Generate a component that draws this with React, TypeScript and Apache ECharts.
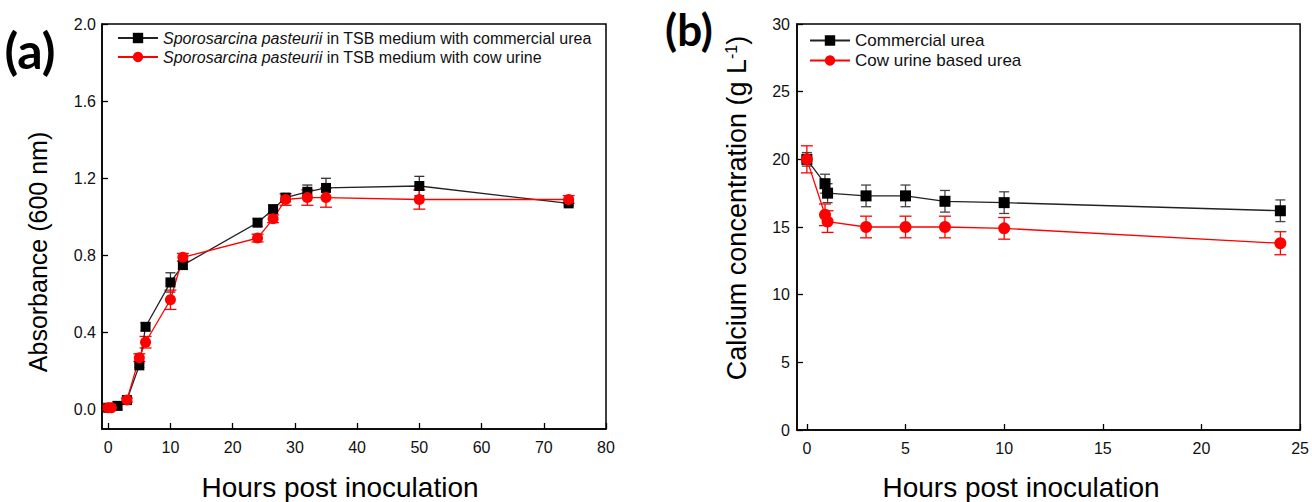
import { useEffect, useRef } from 'react';
import * as echarts from 'echarts';

// ---------- Panel (a): absorbance ----------
const hoursCommercialA = [0, 1.5, 3, 5, 6, 10, 12, 24, 26.5, 28.5, 32, 35, 50, 74];
const absCommercial = [0.01, 0.02, 0.05, 0.23, 0.43, 0.66, 0.75, 0.97, 1.04, 1.1, 1.13, 1.15, 1.16, 1.07];
const absCommercialErr = [0.005, 0.02, 0.01, 0.01, 0.02, 0.05, 0.02, 0.02, 0.02, 0.02, 0.035, 0.05, 0.05, 0.01];

const hoursUrineA = [0, 0.5, 3, 5, 6, 10, 12, 24, 26.5, 28.5, 32, 35, 50, 74];
const absUrine = [0.01, 0.01, 0.05, 0.27, 0.35, 0.57, 0.79, 0.89, 0.99, 1.09, 1.1, 1.1, 1.09, 1.09];
const absUrineErr = [0.01, 0.01, 0.01, 0.02, 0.03, 0.05, 0.02, 0.02, 0.02, 0.03, 0.04, 0.05, 0.05, 0.02];

const xTicksA = [0, 10, 20, 30, 40, 50, 60, 70, 80];
const yTicksA = [0, 0.4, 0.8, 1.2, 1.6, 2.0];

// ---------- Panel (b): calcium ----------
const hoursB = [0, 0.92, 1.05, 3, 5, 7, 10, 24];
const caCommercial = [20.0, 18.2, 17.5, 17.3, 17.3, 16.9, 16.8, 16.2];
const caCommercialErr = [0.5, 0.7, 0.7, 0.8, 0.8, 0.8, 0.8, 0.8];
const caUrine = [20.0, 15.9, 15.4, 15.0, 15.0, 15.0, 14.9, 13.8];
const caUrineErr = [1.0, 0.8, 0.8, 0.8, 0.8, 0.8, 0.8, 0.85];

const xTicksB = [0, 5, 10, 15, 20, 25];
const yTicksB = [0, 5, 10, 15, 20, 25, 30];

const nameA1 = 'Sporosarcina pasteurii in TSB medium with commercial urea';
const nameA2 = 'Sporosarcina pasteurii in TSB medium with cow urine';
const nameB1 = 'Commercial urea';
const nameB2 = 'Cow urine based urea';

const FONT = '"Liberation Sans", Arial, sans-serif';
const BLACK = '#000000';
const RED = '#ff0000';

function errorSeries(name: string, xs: number[], ys: number[], es: number[], color: string, idx: number, capW: number) {
  return {
    type: 'custom',
    name,
    xAxisIndex: idx,
    yAxisIndex: idx,
    silent: true,
    clip: false,
    data: xs.map((x, i) => [x, ys[i] - es[i], ys[i] + es[i]]),
    encode: { x: 0, y: [1, 2] },
    renderItem: (_params: any, api: any) => {
      const lo = api.coord([api.value(0), api.value(1)]);
      const hi = api.coord([api.value(0), api.value(2)]);
      const style = { stroke: color, lineWidth: 1.3 };
      return {
        type: 'group',
        children: [
          { type: 'line', shape: { x1: lo[0], y1: lo[1], x2: hi[0], y2: hi[1] }, style },
          { type: 'line', shape: { x1: lo[0] - capW, y1: lo[1], x2: lo[0] + capW, y2: lo[1] }, style },
          { type: 'line', shape: { x1: hi[0] - capW, y1: hi[1], x2: hi[0] + capW, y2: hi[1] }, style },
        ],
      };
    },
  };
}

function lineSeries(name: string, xs: number[], ys: number[], color: string, lineColor: string, symbol: string, size: number, idx: number) {
  return {
    type: 'line',
    name,
    xAxisIndex: idx,
    yAxisIndex: idx,
    data: xs.map((x, i) => [x, ys[i]]),
    symbol,
    symbolSize: size,
    showAllSymbol: true,
    itemStyle: { color },
    lineStyle: { color: lineColor, width: 1.3 },
    clip: false,
  };
}

function valueAxis(min: number, max: number, ticks: number[], fmt: (v: number) => string, gridIndex: number, labelMargin: number) {
  return {
    type: 'value',
    gridIndex,
    min,
    max,
    splitLine: { show: false },
    axisLine: { show: true, onZero: false, lineStyle: { color: '#000', width: 1.5 } },
    axisTick: { show: true, inside: true, length: 6, lineStyle: { color: '#000', width: 1.3 }, customValues: ticks },
    axisLabel: {
      show: true,
      customValues: ticks,
      formatter: (v: number) => fmt(v),
      fontSize: 16,
      fontFamily: FONT,
      color: '#111',
      margin: labelMargin,
    },
  };
}

export default function App() {
  const ref = useRef<HTMLDivElement>(null);

  useEffect(() => {
    if (!ref.current) return;
    const chart = echarts.init(ref.current, null, { renderer: 'svg' });

    const option: any = {
      animation: false,
      backgroundColor: '#ffffff',
      textStyle: { fontFamily: FONT },
      grid: [
        { left: 102, top: 24, width: 504, height: 405, show: true, borderColor: '#000', borderWidth: 1.5, backgroundColor: 'transparent' },
        { left: 797, top: 24, width: 504, height: 406, show: true, borderColor: '#000', borderWidth: 1.5, backgroundColor: 'transparent' },
      ],
      xAxis: [
        valueAxis(-1, 80, xTicksA, (v) => String(v), 0, 10),
        valueAxis(-0.5, 25, xTicksB, (v) => String(v), 1, 10),
      ],
      yAxis: [
        valueAxis(-0.1, 2.0, yTicksA, (v) => v.toFixed(1), 0, 6),
        valueAxis(0, 30, yTicksB, (v) => String(v), 1, 7),
      ],
      legend: [
        {
          orient: 'vertical',
          left: 112,
          top: 25,
          itemWidth: 40,
          itemHeight: 13,
          itemGap: 3,
          data: [nameA1, nameA2],
          formatter: (n: string) => n.replace('Sporosarcina pasteurii', '{i|Sporosarcina pasteurii}'),
          textStyle: {
            fontSize: 16,
            fontFamily: FONT,
            color: '#111',
            rich: { i: { fontStyle: 'italic', fontSize: 16, fontFamily: FONT, color: '#111' } },
          },
        },
        {
          orient: 'vertical',
          left: 804,
          top: 27,
          itemWidth: 40,
          itemHeight: 13,
          itemGap: 3,
          data: [nameB1, nameB2],
          textStyle: { fontSize: 17, fontFamily: FONT, color: '#111' },
        },
      ],
      series: [
        errorSeries('errA1', hoursCommercialA, absCommercial, absCommercialErr, '#333', 0, 5),
        lineSeries(nameA1, hoursCommercialA, absCommercial, BLACK, '#222', 'rect', 10, 0),
        errorSeries('errA2', hoursUrineA, absUrine, absUrineErr, RED, 0, 6),
        lineSeries(nameA2, hoursUrineA, absUrine, RED, RED, 'circle', 11, 0),
        errorSeries('errB1', hoursB, caCommercial, caCommercialErr, '#444', 1, 5),
        lineSeries(nameB1, hoursB, caCommercial, BLACK, '#222', 'rect', 11, 1),
        errorSeries('errB2', hoursB, caUrine, caUrineErr, RED, 1, 6),
        lineSeries(nameB2, hoursB, caUrine, RED, RED, 'circle', 12, 1),
      ],
      graphic: [
        {
          type: 'text',
          x: 30,
          y: 50,
          style: {
            text: '(a)',
            font: 'bold 50px Lato, "Open Sans", sans-serif',
            fill: '#000',
            textAlign: 'center',
            textVerticalAlign: 'middle',
          },
        },
        {
          type: 'text',
          x: 689,
          y: 29,
          style: {
            text: '(b)',
            font: 'bold 44px Lato, "Open Sans", sans-serif',
            fill: '#000',
            textAlign: 'center',
            textVerticalAlign: 'middle',
          },
        },
        {
          type: 'text',
          x: 38,
          y: 252,
          rotation: Math.PI / 2,
          style: { text: 'Absorbance (600 nm)', font: `25px ${FONT}`, fill: '#000', textAlign: 'center', textVerticalAlign: 'middle' },
        },
        {
          type: 'text',
          x: 340,
          y: 487,
          style: { text: 'Hours post inoculation', font: `28px ${FONT}`, fill: '#000', textAlign: 'center', textVerticalAlign: 'middle' },
        },
        {
          type: 'text',
          x: 737,
          y: 208,
          rotation: Math.PI / 2,
          style: {
            text: 'Calcium concentration (g L{sup|-1})',
            font: `27px ${FONT}`,
            fontSize: 27,
            fontFamily: FONT,
            fill: '#000',
            textAlign: 'center',
            textVerticalAlign: 'middle',
            rich: { sup: { fontSize: 16, fontFamily: FONT, fill: '#000', padding: [0, 0, 12, 0] } },
          },
        },
        {
          type: 'text',
          x: 1021,
          y: 487,
          style: { text: 'Hours post inoculation', font: `28px ${FONT}`, fill: '#000', textAlign: 'center', textVerticalAlign: 'middle' },
        },
      ],
    };

    chart.setOption(option);
    return () => chart.dispose();
  }, []);

  return (
    <div
      ref={ref}
      style={{ position: 'fixed', left: 0, top: 0, width: 1312, height: 502, background: '#fff' }}
    />
  );
}
